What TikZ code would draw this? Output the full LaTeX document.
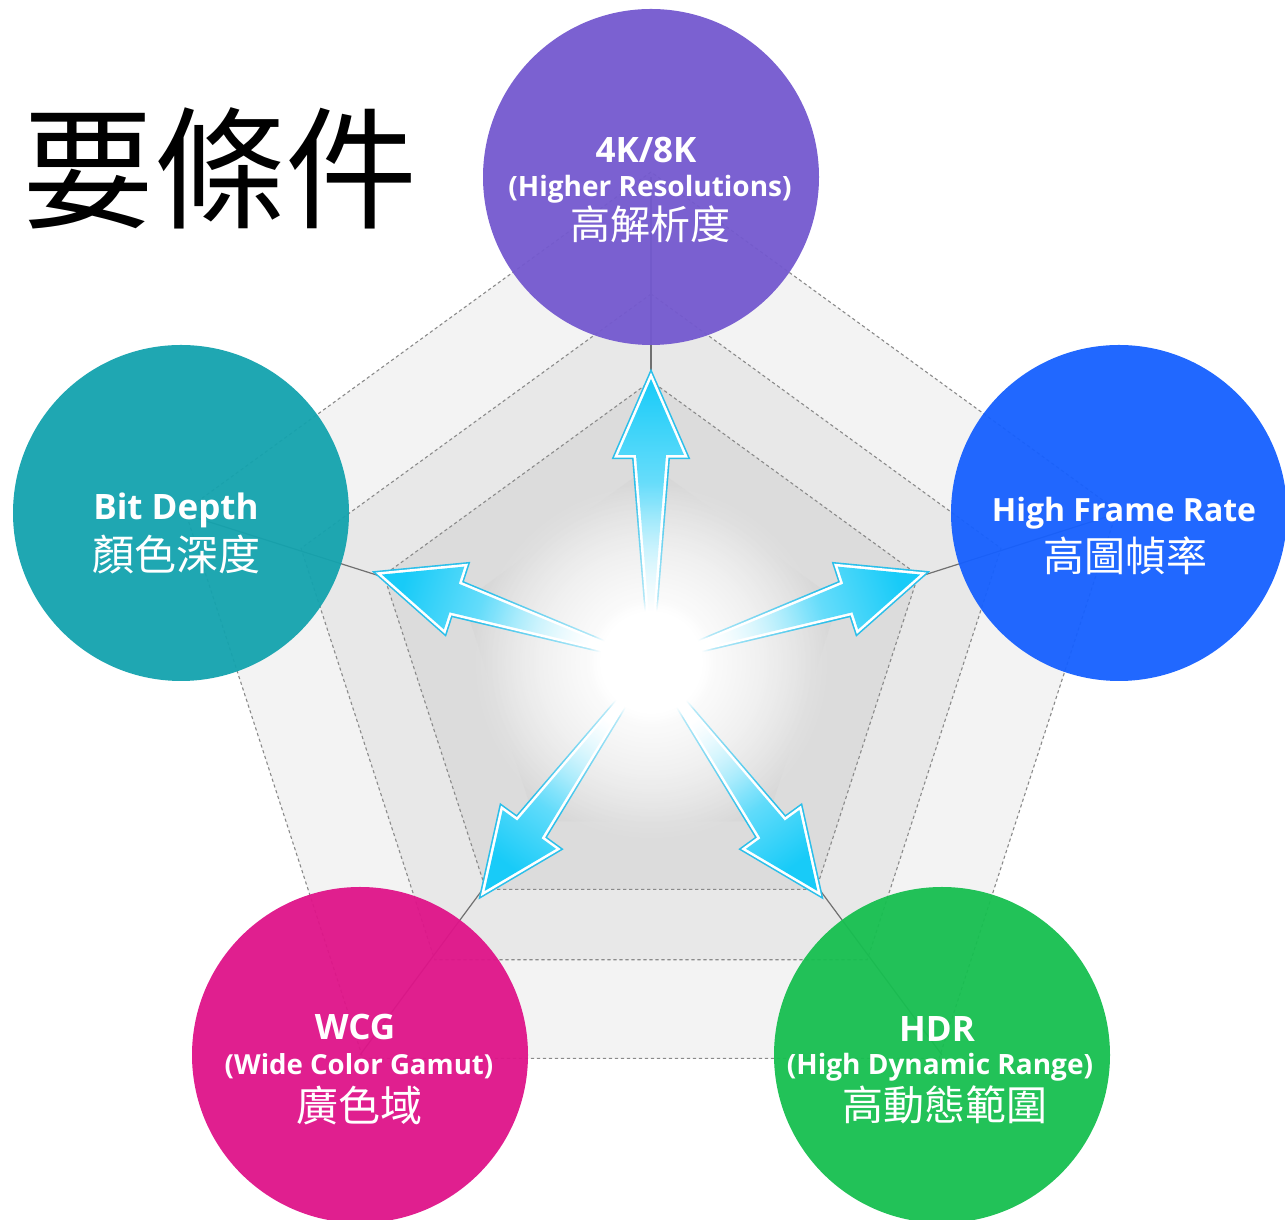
\documentclass[tikz,border=0pt]{standalone}
\usepackage{fontspec}
\newfontfamily\lat{Open Sans}
\newfontfamily\cjk{Noto Sans CJK TC}
\usetikzlibrary{calc,fadings}
\definecolor{c4k}{HTML}{7459CF}
\definecolor{cbd}{HTML}{14A3AE}
\definecolor{chfr}{HTML}{1660FF}
\definecolor{cwcg}{HTML}{DF1489}
\definecolor{chdr}{HTML}{17BF50}
\definecolor{ring1}{HTML}{F3F3F3}
\definecolor{ring2}{HTML}{E8E8E8}
\definecolor{ring3}{HTML}{DCDCDC}
\definecolor{ring4}{HTML}{CCCCCC}
\definecolor{arrcyan}{HTML}{18CBF8}
\definecolor{arredge}{HTML}{2BBFEA}
\definecolor{spoke}{HTML}{707070}
\definecolor{dashc}{HTML}{8A8A8A}
\newcommand\setfs[1]{\fontsize{#1}{#1}\selectfont}
\tikzfading[name=glowfade, inner color=transparent!0, outer color=transparent!100]
\begin{document}
\begin{tikzpicture}[x=0.5pt,y=0.5pt,
  bubble/.style={circle, minimum size=168pt, inner sep=0pt, fill opacity=0.95, draw=none},
  dashedge/.style={draw=dashc, line width=0.55pt, dash pattern=on 1.6pt off 1.4pt},
  spokeline/.style={draw=spoke, line width=0.6pt},
  entitle/.style={text=white, font=\lat\bfseries\setfs{17.5pt}, inner sep=0pt, anchor=base},
  ensub/.style={text=white, font=\lat\bfseries\setfs{14pt}, inner sep=0pt, anchor=base},
  zhlab/.style={text=white, font=\cjk\setfs{20.5pt}, inner sep=0pt},
]
\useasboundingbox (0,0) rectangle (1285,1220);
\fill[white] (0,0) rectangle (1285,1220);
\clip (0,0) rectangle (1285,1220);
\coordinate (C) at (651,558);
\coordinate (p4k) at (651,1043);
\coordinate (pbd) at (181,707);
\coordinate (phfr) at (1119,707);
\coordinate (pwcg) at (360,165);
\coordinate (phdr) at (942,165);

% pentagon rings
\foreach \r/\col in {490/ring1, 368/ring2, 281/ring3}{
  \fill[\col, shift={(C)}] (90:\r) -- (162:\r) -- (234:\r) -- (306:\r) -- (18:\r) -- cycle;
}
\begin{scope}
  \clip[shift={(C)}] (90:197) -- (162:197) -- (234:197) -- (306:197) -- (18:197) -- cycle;
  \shade[inner color=white, outer color=ring4] (C) circle (235);
\end{scope}
\foreach \r in {490,368,281}{
  \draw[dashedge, shift={(C)}] (90:\r) -- (162:\r) -- (234:\r) -- (306:\r) -- (18:\r) -- cycle;
}

% spokes
\foreach \p in {p4k,pbd,phfr,pwcg,phdr}{
  \draw[spokeline] (C) -- (\p);
}

% arrows
\foreach \a in {90,162,234,306,18}{
  \pgfmathsetmacro\sa{\a-90}
  \path[preaction={draw=arredge, line width=4.2pt},
        preaction={draw=white, line width=2.6pt},
        top color=arrcyan, bottom color=white, middle color=arrcyan!60!white,
        shading angle=\sa]
    ($(C)+(\a:283)$) -- ($(C)+(\a:207)+(\a+90:33)$) -- ($(C)+(\a:207)+(\a+90:15)$)
    -- ($(C)+(\a:40)+(\a+90:1.5)$) -- ($(C)+(\a:40)+(\a-90:1.5)$)
    -- ($(C)+(\a:207)+(\a-90:15)$) -- ($(C)+(\a:207)+(\a-90:33)$) -- cycle;
}

% central glow
\fill[white, path fading=glowfade] (C) circle (180);
\fill[white, path fading=circle with fuzzy edge 20 percent] (C) circle (64);

% bubbles
\node[bubble, fill=c4k] (n4k) at (p4k) {};
\node[bubble, fill=cbd] (nbd) at (pbd) {};
\node[bubble, fill=chfr] (nhfr) at (phfr) {};
\node[bubble, fill=cwcg] (nwcg) at (pwcg) {};
\node[bubble, fill=chdr] (nhdr) at (phdr) {};

% labels
\node[entitle] (t4k) at (646,1057) {4K/8K};
\node[ensub] (s4k) at (650,1023) {(Higher Resolutions)};
\node[zhlab, font=\cjk\setfs{20pt}] (z4k) at (650,996) {高解析度};

\node[entitle] (tbd) at (176,700) {Bit Depth};
\node[zhlab, font=\cjk\setfs{21pt}] (zbd) at (176,665) {顏色深度};

\node[entitle, font=\lat\bfseries\setfs{16pt}] (thfr) at (1124,698) {High Frame Rate};
\node[zhlab] (zhfr) at (1125,664) {高圖幀率};

\node[entitle] (twcg) at (355,180) {WCG};
\node[ensub, font=\lat\bfseries\setfs{13.8pt}] (swcg) at (359,145) {(Wide Color Gamut)};
\node[zhlab, font=\cjk\setfs{21pt}] (zwcg) at (359,114) {廣色域};

\node[entitle] (thdr) at (937,178) {HDR};
\node[ensub] (shdr) at (940,145) {(High Dynamic Range)};
\node[zhlab] (zhdr) at (945,115) {高動態範圍};

% title
\node[font=\cjk\setfs{66pt}, inner sep=0pt] (title) at (220,1052) {要條件};
\end{tikzpicture}
\end{document}
